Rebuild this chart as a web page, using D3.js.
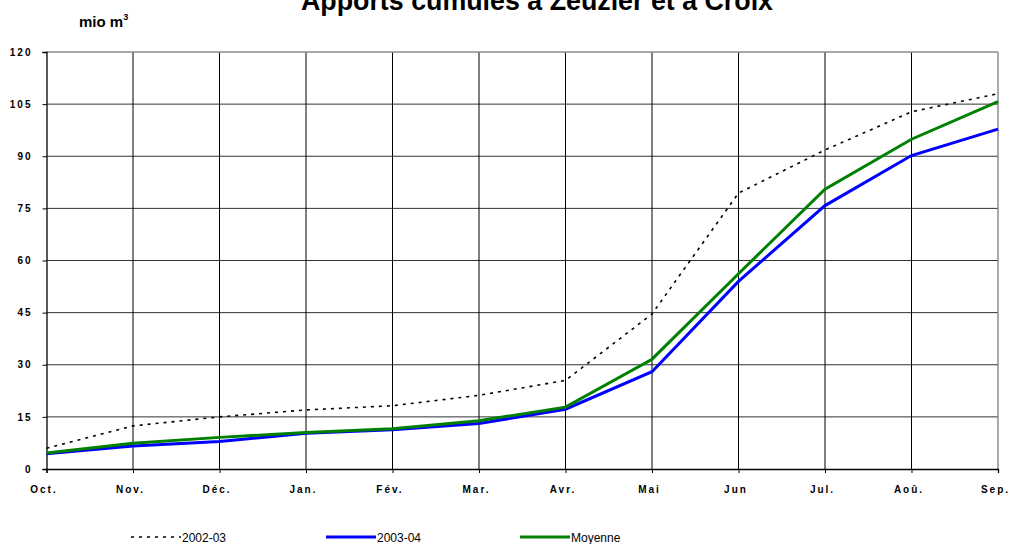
<!DOCTYPE html>
<html>
<head>
<meta charset="utf-8">
<script src="https://cdn.jsdelivr.net/npm/d3@7"></script>
<style>
  body { margin: 0; background: #fff; }
  text { font-family: Arial, "Liberation Sans", sans-serif; }
</style>
</head>
<body>
<script>
// months (x categories)
var months = ["Oct.", "Nov.", "Déc.", "Jan.", "Fév.", "Mar.", "Avr.", "Mai", "Jun", "Jul.", "Aoû.", "Sep."];
var yTicks = [0, 15, 30, 45, 60, 75, 90, 105, 120];

// cumulative inflows, mio m3
var s2002 = [6.0, 12.4, 15.0, 17.0, 18.2, 21.2, 25.5, 44.6, 79.4, 91.8, 102.8, 108.0];
var s2003 = [4.4, 6.6, 7.9, 10.3, 11.3, 13.1, 17.2, 28.0, 54.0, 75.8, 90.2, 97.8];
var moyenne = [4.6, 7.4, 9.1, 10.5, 11.6, 13.9, 17.8, 31.6, 56.2, 80.5, 94.9, 105.7];

var W = 1009, H = 544;
var pLeft = 46.5, pRight = 998, pTop = 52, pBottom = 469;

var svg = d3.select("body").append("svg")
    .attr("width", W)
    .attr("height", H);

var x = d3.scalePoint().domain(months).range([pLeft, pRight]);
var y = d3.scaleLinear().domain([0, 120]).range([pBottom, pTop]);

// title (cut off at top like the source)
svg.append("text")
    .attr("x", 537).attr("y", 9.5)
    .attr("text-anchor", "middle")
    .style("font-size", "26.8px").style("font-weight", "bold")
    .text("Apports cumulés à Zeuzier et à Croix");

// unit label
var unit = svg.append("text")
    .attr("x", 79).attr("y", 26.5)
    .style("font-size", "15px").style("font-weight", "bold")
    .text("mio m");
unit.append("tspan").attr("dy", -7).style("font-size", "9px").text("3");

// horizontal grid
svg.append("g")
    .selectAll("line")
    .data(yTicks.filter(function(d) { return d > 0 && d < 120; }))
    .enter().append("line")
      .attr("x1", pLeft).attr("x2", pRight)
      .attr("y1", function(d) { return y(d); })
      .attr("y2", function(d) { return y(d); })
      .attr("stroke", "#333").attr("stroke-width", 1);

// vertical grid
svg.append("g")
    .selectAll("line")
    .data(months.slice(1, -1))
    .enter().append("line")
      .attr("x1", function(d) { return x(d); })
      .attr("x2", function(d) { return x(d); })
      .attr("y1", pTop).attr("y2", pBottom)
      .attr("stroke", "#000").attr("stroke-width", 1);

// top & right border (grey)
svg.append("line").attr("x1", pLeft).attr("x2", pRight).attr("y1", pTop).attr("y2", pTop)
    .attr("stroke", "#8c8c8c").attr("stroke-width", 1.5);
svg.append("line").attr("x1", pRight).attr("x2", pRight).attr("y1", pTop).attr("y2", pBottom)
    .attr("stroke", "#8c8c8c").attr("stroke-width", 1.5);

// axes
var yAxis = svg.append("g")
    .attr("transform", "translate(" + pLeft + ",0)")
    .call(d3.axisLeft(y).tickValues(yTicks).tickSize(4).tickPadding(10));
var xAxis = svg.append("g")
    .attr("transform", "translate(0," + pBottom + ")")
    .call(d3.axisBottom(x).tickSize(4).tickPadding(13));

[yAxis, xAxis].forEach(function(ax) {
  ax.select(".domain").attr("stroke", "#000").attr("stroke-width", 1.3);
  ax.selectAll(".tick line").attr("stroke", "#000");
  ax.selectAll("text")
      .attr("fill", "#000")
      .style("font-family", "Arial, 'Liberation Sans', sans-serif")
      .style("font-size", "10px")
      .style("font-weight", "bold")
      .style("letter-spacing", "2px");
});
xAxis.selectAll("text").attr("dx", "-3px");

// lines
var line = d3.line()
    .x(function(d, i) { return x(months[i]); })
    .y(function(d) { return y(d); });

svg.append("path").datum(s2002)
    .attr("d", line).attr("fill", "none")
    .attr("stroke", "#000").attr("stroke-width", 1.6)
    .attr("stroke-dasharray", "3,5");
svg.append("path").datum(s2003)
    .attr("d", line).attr("fill", "none")
    .attr("stroke", "#0000ff").attr("stroke-width", 3);
svg.append("path").datum(moyenne)
    .attr("d", line).attr("fill", "none")
    .attr("stroke", "#008000").attr("stroke-width", 3);

// legend
var legend = [
  { name: "2002-03", color: "#000", w: 1.6, dash: "3,5", x: 131 },
  { name: "2003-04", color: "#0000ff", w: 3, dash: null, x: 326 },
  { name: "Moyenne", color: "#008000", w: 3, dash: null, x: 520 }
];
var lg = svg.append("g").selectAll("g").data(legend).enter().append("g");
lg.append("line")
    .attr("x1", function(d) { return d.x; })
    .attr("x2", function(d) { return d.x + 50; })
    .attr("y1", 537).attr("y2", 537)
    .attr("stroke", function(d) { return d.color; })
    .attr("stroke-width", function(d) { return d.w; })
    .attr("stroke-dasharray", function(d) { return d.dash; });
lg.append("text")
    .attr("x", function(d) { return d.x + 51; })
    .attr("y", 541.5)
    .style("font-size", "12px")
    .text(function(d) { return d.name; });
</script>
</body>
</html>
